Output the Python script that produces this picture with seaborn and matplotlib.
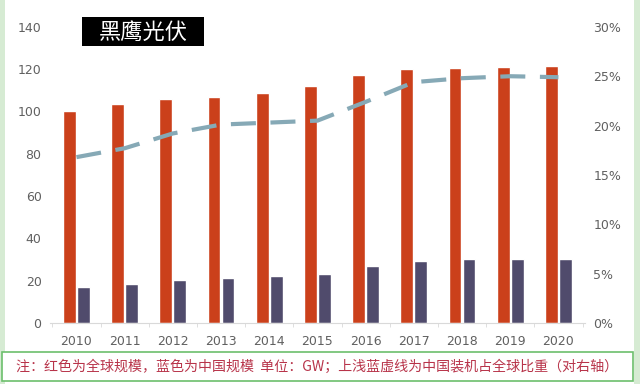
import numpy as np
import pandas as pd
import matplotlib.pyplot as plt
import seaborn as sns
from matplotlib.patches import Rectangle

# -----------------------------
# Data (GW, share of global)
# -----------------------------
years = ["2010", "2011", "2012", "2013", "2014", "2015",
         "2016", "2017", "2018", "2019", "2020"]
world = [100, 103.5, 106, 107, 108.8, 112, 117.3, 120, 120.6, 121, 121.5]
china = [17, 18.4, 20.3, 21.4, 22.4, 23.3, 27, 29.3, 30.3, 30.3, 30.3]
share = [16.8, 17.7, 19.2, 20.1, 20.3, 20.5, 22.4, 24.4, 24.8, 25.0, 24.9]

red = "#cb401b"
navy = "#504b6c"
line_blue = "#86a9b6"
tick_grey = "#606060"

df = pd.DataFrame({
    "year": years * 2,
    "value": world + china,
    "series": ["world"] * len(years) + ["china"] * len(years),
})

sns.set_style("white")
plt.rcParams["font.family"] = ["DejaVu Sans", "Noto Sans CJK SC"]

fig = plt.figure(figsize=(6.4, 3.84), dpi=100)
ax = fig.add_axes([0.078, 0.159, 0.836, 0.771])

sns.barplot(data=df, x="year", y="value", hue="series",
            palette=[red, navy], saturation=1, width=0.58, gap=0.08,
            legend=False, ax=ax, zorder=2)
ax.set_ylim(0, 140)
ax.set_yticks(range(0, 141, 20))
ax.set_xlim(-0.55, len(years) - 0.45)
ax.set_xlabel("")
ax.set_ylabel("")
for s in ["top", "right", "left"]:
    ax.spines[s].set_visible(False)
ax.spines["bottom"].set_color("#d9d9d9")
ax.set_xticks(np.arange(len(years) + 1) - 0.5, minor=True)
ax.tick_params(axis="x", which="major", colors=tick_grey, labelsize=9,
               length=0, pad=9)
ax.tick_params(axis="x", which="minor", length=3, color="#d9d9d9", bottom=True)
ax.tick_params(axis="y", colors=tick_grey, labelsize=9, length=0, pad=6)

# share line on right axis
ax2 = ax.twinx()
sns.lineplot(x=np.arange(len(years)), y=share, ax=ax2, color=line_blue,
             linewidth=3, zorder=3)
ax2.lines[0].set_linestyle((0, (6, 3.5)))
ax2.set_ylim(0, 30)
ax2.set_yticks(range(0, 31, 5))
ax2.set_yticklabels([f"{v}%" for v in range(0, 31, 5)])
for s in ax2.spines.values():
    s.set_visible(False)
ax2.tick_params(axis="y", colors=tick_grey, labelsize=9, length=0, pad=6)

# watermark
fig.patches.append(Rectangle((82 / 640, 1 - 46 / 384), 122 / 640, 29 / 384,
                             transform=fig.transFigure, facecolor="black",
                             edgecolor="none"))
fig.text(143 / 640, 1 - 32 / 384, "黑鹰光伏", color="white", fontsize=16,
         family=["Noto Sans CJK SC"], ha="center", va="center")

# green frame strips
fig.patches.append(Rectangle((0, 0), 5 / 640, 1, transform=fig.transFigure,
                             facecolor="#d6ebd3", edgecolor="none"))
fig.patches.append(Rectangle((634 / 640, 0), 6 / 640, 1, transform=fig.transFigure,
                             facecolor="#d6ebd3", edgecolor="none"))

# note box
fig.patches.append(Rectangle((2 / 640, 1 - 381 / 384), 631 / 640, 29 / 384,
                             transform=fig.transFigure, facecolor="white",
                             edgecolor="#6cbf6c", linewidth=1.2))
fig.text(317 / 640, 1 - 367 / 384,
         "注：红色为全球规模，蓝色为中国规模  单位：GW；上浅蓝虚线为中国装机占全球比重（对右轴）",
         color="#b8344a", fontsize=10.1, family=["Noto Sans CJK SC", "DejaVu Sans"],
         ha="center", va="center")

fig.savefig("out.png", dpi=100)
